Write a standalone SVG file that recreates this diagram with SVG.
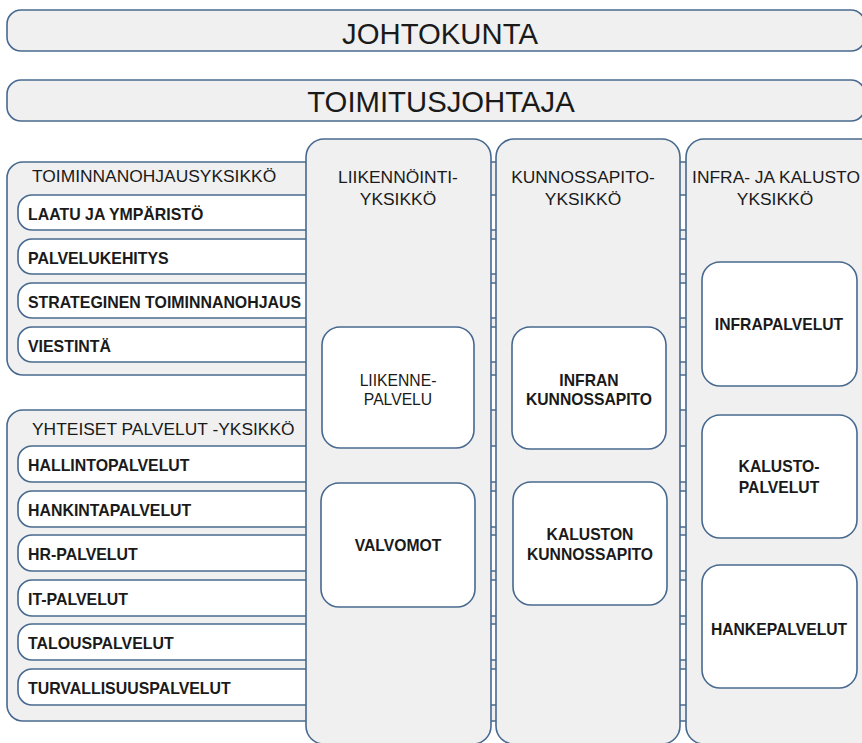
<svg xmlns="http://www.w3.org/2000/svg" width="862" height="743" viewBox="0 0 862 743">
<style>
.box{fill:#f0f0f0;stroke:#48698f;stroke-width:1.6}
.row{fill:#ffffff;stroke:#48698f;stroke-width:1.6}
.inner{fill:#ffffff;stroke:#48698f;stroke-width:1.6}
text{font-family:"Liberation Sans",Arial,sans-serif;fill:#1a1a1a}
.title{font-size:29.3px;text-anchor:middle}
.ghead{font-size:17.4px}
.rt{font-size:15.9px;font-weight:bold}
.ch{font-size:17.4px;text-anchor:middle}
.it{font-size:15.7px;font-weight:bold;text-anchor:middle}
.itn{font-size:15.7px;text-anchor:middle}
</style>
<rect width="862" height="743" fill="#ffffff"/>
<g id="johtokunta">
<rect class="box" x="7" y="10" width="858" height="41" rx="14"/>
<text class="title" x="440" y="43.5">JOHTOKUNTA</text>
</g>
<g id="toimitusjohtaja">
<rect class="box" x="7" y="80" width="858" height="41" rx="14"/>
<text class="title" x="441" y="112">TOIMITUSJOHTAJA</text>
</g>
<g id="toiminnanohjausyksikko">
<rect class="box" x="7" y="162" width="880" height="213" rx="16"/>
<text class="ghead" x="32" y="182">TOIMINNANOHJAUSYKSIKKÖ</text>
</g>
<g id="laatu"><rect class="row" x="18" y="195" width="870" height="35" rx="14"/><text class="rt" x="28" y="220">LAATU JA YMPÄRISTÖ</text></g>
<g id="palvelukehitys"><rect class="row" x="18" y="239" width="870" height="35" rx="14"/><text class="rt" x="28" y="264">PALVELUKEHITYS</text></g>
<g id="strateginen"><rect class="row" x="18" y="283" width="870" height="35" rx="14"/><text class="rt" x="28" y="308">STRATEGINEN TOIMINNANOHJAUS</text></g>
<g id="viestinta"><rect class="row" x="18" y="327" width="870" height="35" rx="14"/><text class="rt" x="28" y="352">VIESTINTÄ</text></g>
<g id="yhteiset">
<rect class="box" x="7" y="410" width="880" height="311" rx="16"/>
<text class="ghead" x="32" y="435">YHTEISET PALVELUT -YKSIKKÖ</text>
</g>
<g id="hallinto"><rect class="row" x="18" y="446" width="870" height="36" rx="14"/><text class="rt" x="28" y="471">HALLINTOPALVELUT</text></g>
<g id="hankinta"><rect class="row" x="18" y="491" width="870" height="36" rx="14"/><text class="rt" x="28" y="516">HANKINTAPALVELUT</text></g>
<g id="hr"><rect class="row" x="18" y="535" width="870" height="36" rx="14"/><text class="rt" x="28" y="560">HR-PALVELUT</text></g>
<g id="it"><rect class="row" x="18" y="580" width="870" height="36" rx="14"/><text class="rt" x="28" y="605">IT-PALVELUT</text></g>
<g id="talous"><rect class="row" x="18" y="624" width="870" height="36" rx="14"/><text class="rt" x="28" y="649">TALOUSPALVELUT</text></g>
<g id="turvallisuus"><rect class="row" x="18" y="669" width="870" height="36" rx="14"/><text class="rt" x="28" y="694">TURVALLISUUSPALVELUT</text></g>
<g id="liikennointiyksikko">
<rect class="box" x="306" y="139" width="185" height="605" rx="18"/>
<text class="ch" x="398" y="183">LIIKENNÖINTI-</text>
<text class="ch" x="398" y="205">YKSIKKÖ</text>
</g>
<g id="kunnossapitoyksikko">
<rect class="box" x="496" y="139" width="184" height="605" rx="18"/>
<text class="ch" x="583" y="183">KUNNOSSAPITO-</text>
<text class="ch" x="583" y="205">YKSIKKÖ</text>
</g>
<g id="infrakalustoyksikko">
<rect class="box" x="686" y="139" width="200" height="605" rx="18"/>
<text class="ch" x="776" y="183">INFRA- JA KALUSTO</text>
<text class="ch" x="775" y="205">YKSIKKÖ</text>
</g>
<g id="liikennepalvelu">
<rect class="inner" x="322" y="327" width="152" height="121" rx="18"/>
<text class="itn" x="398" y="386">LIIKENNE-</text>
<text class="itn" x="398" y="405">PALVELU</text>
</g>
<g id="valvomot">
<rect class="inner" x="321" y="483" width="154" height="124" rx="18"/>
<text class="it" x="398" y="551">VALVOMOT</text>
</g>
<g id="infrankunnossapito">
<rect class="inner" x="512" y="327" width="154" height="122" rx="18"/>
<text class="it" x="589" y="386">INFRAN</text>
<text class="it" x="589" y="405">KUNNOSSAPITO</text>
</g>
<g id="kalustonkunnossapito">
<rect class="inner" x="513" y="482" width="154" height="123" rx="18"/>
<text class="it" x="590" y="540">KALUSTON</text>
<text class="it" x="590" y="560">KUNNOSSAPITO</text>
</g>
<g id="infrapalvelut">
<rect class="inner" x="702" y="262" width="155" height="124" rx="18"/>
<text class="it" x="779" y="330">INFRAPALVELUT</text>
</g>
<g id="kalustopalvelut">
<rect class="inner" x="702" y="415" width="155" height="123" rx="18"/>
<text class="it" x="779" y="472">KALUSTO-</text>
<text class="it" x="779" y="493">PALVELUT</text>
</g>
<g id="hankepalvelut">
<rect class="inner" x="702" y="565" width="155" height="123" rx="18"/>
<text class="it" x="779" y="635">HANKEPALVELUT</text>
</g>
<g id="connectors"/>
</svg>
